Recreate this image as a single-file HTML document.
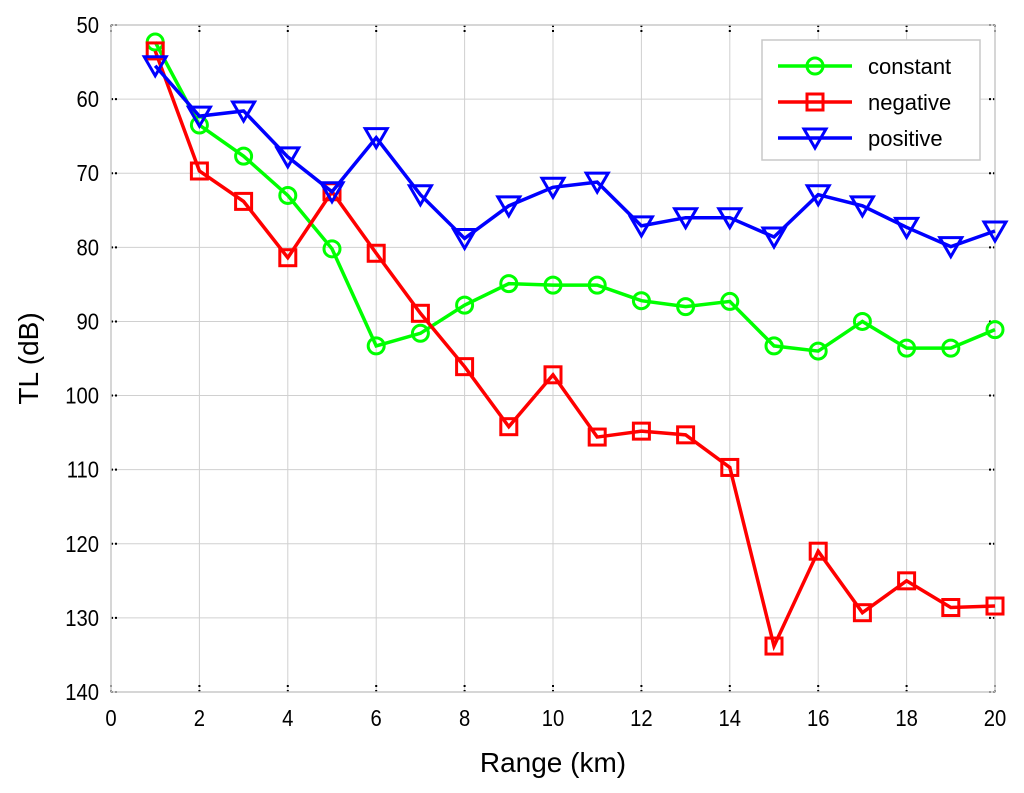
<!DOCTYPE html>
<html><head><meta charset="utf-8"><style>
body{margin:0;background:#fff;}
svg text{font-family:"Liberation Sans",Arial,sans-serif;fill:#000;}
</style></head><body>
<svg id="chart" width="1024" height="788" xmlns="http://www.w3.org/2000/svg">
<rect x="0" y="0" width="1024" height="788" fill="#fff"/>
<g id="grid"></g><g id="axes"></g><g id="series"></g><g id="legend"></g>
</svg>
<script>
const ranges=[1,2,3,4,5,6,7,8,9,10,11,12,13,14,15,16,17,18,19,20];
const constantTL=[52.3,63.5,67.7,73,80.2,93.3,91.6,87.8,84.9,85.1,85.1,87.2,88,87.3,93.3,94,90,93.6,93.6,91.1];
const negativeTL=[53.5,69.7,73.8,81.4,72.5,80.8,88.9,96.1,104.2,97.2,105.6,104.8,105.3,109.7,133.8,121,129.3,125,128.6,128.4];
const positiveTL=[55.5,62.3,61.6,67.8,72.5,65.2,72.9,78.8,74.4,71.9,71.2,77.1,76,76,78.6,72.9,74.4,77.3,79.9,77.8];
const xTicks=[0,2,4,6,8,10,12,14,16,18,20];
const yTicks=[50,60,70,80,90,100,110,120,130,140];
const NS="http://www.w3.org/2000/svg";
const L=111,R=995,T=25,B=692;
const X=v=>L+(v-0)/(20-0)*(R-L);
const Y=v=>T+(v-50)/(140-50)*(B-T);
function mk(tag,attrs,parent){const e=document.createElementNS(NS,tag);for(const k in attrs)e.setAttribute(k,attrs[k]);parent.appendChild(e);return e;}
const grid=document.getElementById('grid'),axes=document.getElementById('axes'),series=document.getElementById('series'),legend=document.getElementById('legend');
xTicks.forEach(t=>{
 const g=mk('line',{x1:X(t),x2:X(t),y1:T,y2:B,stroke:'#d0d0d0','stroke-width':1},grid);
 
 
 mk('line',{x1:X(t),x2:X(t),y1:T,y2:T+7,stroke:'#000','stroke-width':2,'stroke-dasharray':'2,3'},axes);
 mk('line',{x1:X(t),x2:X(t),y1:B,y2:B-7,stroke:'#000','stroke-width':2,'stroke-dasharray':'2,3'},axes);
 const tx=mk('text',{x:X(t),y:B+34,'font-size':23,'text-anchor':'middle',transform:`translate(${X(t)*0.12},0) scale(0.88,1)`},axes);
 tx.setAttribute('x',X(t));
 tx.textContent=t;
 
 
});
yTicks.forEach(t=>{
 const g=mk('line',{x1:L,x2:R,y1:Y(t),y2:Y(t),stroke:'#d0d0d0','stroke-width':1},grid);
 
 
 mk('line',{x1:L,x2:L+6,y1:Y(t),y2:Y(t),stroke:'#000','stroke-width':2,'stroke-dasharray':'2,2'},axes);
 mk('line',{x1:R,x2:R-6,y1:Y(t),y2:Y(t),stroke:'#000','stroke-width':2,'stroke-dasharray':'2,2'},axes);
 const tx=mk('text',{x:L-12,y:Y(t)+8,'font-size':23,'text-anchor':'end',transform:`translate(${(L-12)*0.12},0) scale(0.88,1)`},axes);
 tx.textContent=t;
 
 
});
const frame=mk('rect',{x:L,y:T,width:R-L,height:B-T,fill:'none',stroke:'#c8c8c8','stroke-width':1.5},axes);


const xl=mk('text',{x:(L+R)/2,y:772,'font-size':28,'text-anchor':'middle'},axes);
xl.textContent='Range (km)';


const yl=mk('text',{x:38,y:(T+B)/2,'font-size':28,'text-anchor':'middle',transform:`rotate(-90 38 ${(T+B)/2})`},axes);
yl.textContent='TL (dB)';


function marker(type,cx,cy,color,parent){
 let e;
 if(type==='o') e=mk('circle',{cx:cx,cy:cy,r:8,fill:'none',stroke:color,'stroke-width':3},parent);
 else if(type==='s') e=mk('rect',{x:cx-8,y:cy-8,width:16,height:16,fill:'none',stroke:color,'stroke-width':3},parent);
 else e=mk('polygon',{points:`${cx-11},${cy-9} ${cx+11},${cy-9} ${cx},${cy+10}`,fill:'none',stroke:color,'stroke-width':3},parent);
 return e;
}
const defs=[['constant',constantTL,'#00ff00','o'],['negative',negativeTL,'#ff0000','s'],['positive',positiveTL,'#0000ff','v']];
defs.forEach(([name,vals,color,m])=>{
 const g=mk('g',{},series);
 
 
 const pl=mk('polyline',{points:ranges.map((r,i)=>X(r)+','+Y(vals[i])).join(' '),fill:'none',stroke:color,'stroke-width':3.5},g);
 
 
 ranges.forEach((r,i)=>{
  const mm=marker(m,X(r),Y(vals[i]),color,g);
  
  
 });
});
const lb=mk('rect',{x:762,y:40,width:218,height:120,fill:'#fff',stroke:'#c8c8c8','stroke-width':1.5},legend);


defs.forEach(([name,vals,color,m],i)=>{
 const cy=66+i*36;
 const g=mk('g',{},legend);
 
 
 mk('line',{x1:778,x2:852,y1:cy,y2:cy,stroke:color,'stroke-width':3.5},g);
 marker(m,815,cy,color,g);
 const t=mk('text',{x:868,y:cy+8,'font-size':22},g);
 t.textContent=name;
});
</script>
</body></html>
